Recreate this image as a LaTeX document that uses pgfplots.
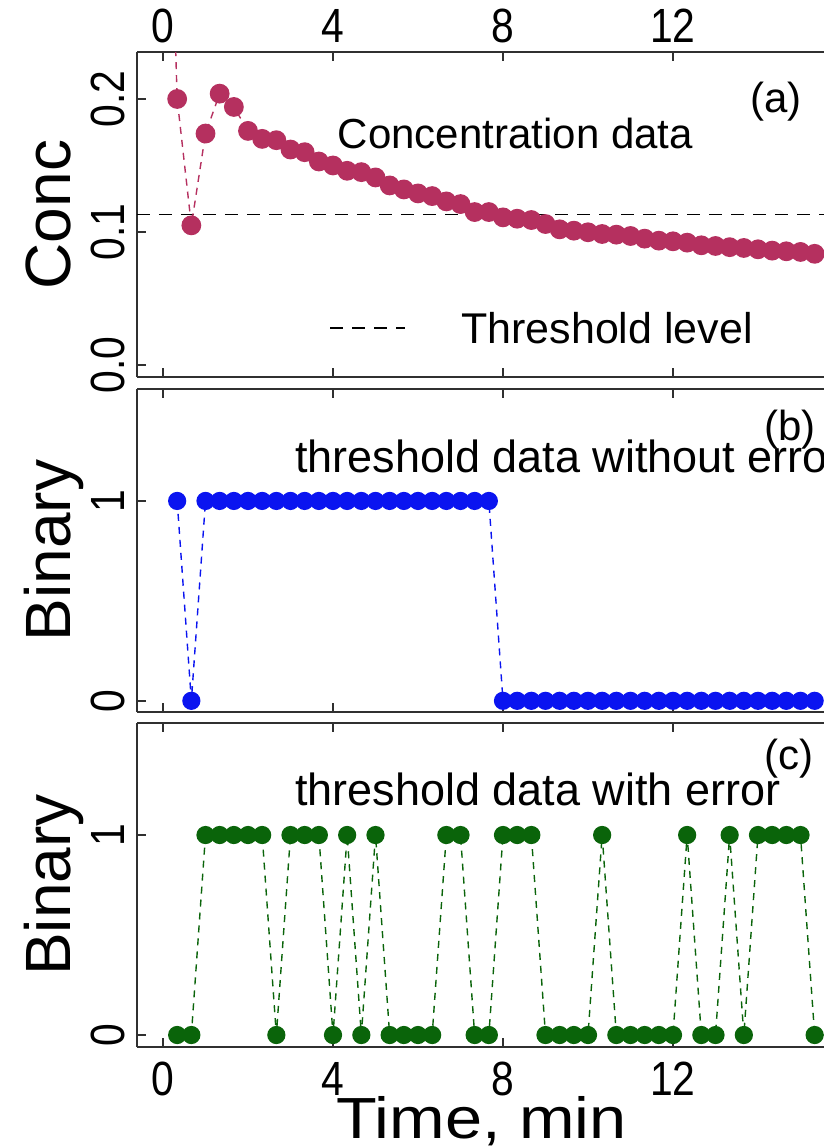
\documentclass[border=0pt]{standalone}
\usepackage{fontspec}
\setmainfont{Liberation Sans}
\newfontfamily\tickfont[FakeStretch=0.85]{Liberation Sans}
\newfontfamily\widefont[FakeStretch=1.15]{Liberation Sans}
\usepackage{pgfplots}
\usepackage{pgfplotstable}
\pgfplotsset{compat=1.18}
\definecolor{concred}{HTML}{B5305F}
\definecolor{binblue}{HTML}{0A14F0}
\definecolor{bingreen}{HTML}{0A640A}
\definecolor{axisgray}{HTML}{303030}

% concentration, one reading every 20 s
\pgfplotstableread{
t      c
0.000  0.550
0.333  0.200
0.667  0.105
1.000  0.174
1.333  0.204
1.667  0.194
2.000  0.176
2.333  0.170
2.667  0.169
3.000  0.162
3.333  0.160
3.667  0.153
4.000  0.150
4.333  0.146
4.667  0.145
5.000  0.141
5.333  0.135
5.667  0.132
6.000  0.129
6.333  0.127
6.667  0.123
7.000  0.121
7.333  0.115
7.667  0.115
8.000  0.111
8.333  0.110
8.667  0.109
9.000  0.106
9.333  0.102
9.667  0.101
10.000 0.0998
10.333 0.0985
10.667 0.098
11.000 0.097
11.333 0.095
11.667 0.0935
12.000 0.093
12.333 0.092
12.667 0.090
13.000 0.0895
13.333 0.0886
13.667 0.088
14.000 0.087
14.333 0.086
14.667 0.0855
15.000 0.085
15.333 0.0836
15.667 0.083
}\conctable

% b: threshold without error, e: with error
\pgfplotstableread{
t      b  e
0.333  1  0
0.667  0  0
1.000  1  1
1.333  1  1
1.667  1  1
2.000  1  1
2.333  1  1
2.667  1  0
3.000  1  1
3.333  1  1
3.667  1  1
4.000  1  0
4.333  1  1
4.667  1  0
5.000  1  1
5.333  1  0
5.667  1  0
6.000  1  0
6.333  1  0
6.667  1  1
7.000  1  1
7.333  1  0
7.667  1  0
8.000  0  1
8.333  0  1
8.667  0  1
9.000  0  0
9.333  0  0
9.667  0  0
10.000 0  0
10.333 0  1
10.667 0  0
11.000 0  0
11.333 0  0
11.667 0  0
12.000 0  0
12.333 0  1
12.667 0  0
13.000 0  0
13.333 0  1
13.667 0  0
14.000 0  1
14.333 0  1
14.667 0  1
15.000 0  1
15.333 0  0
15.667 0  0
}\bintable

\pgfplotsset{
  panel/.style={
    scale only axis, width=343.5pt,
    xmin=-0.612, xmax=15.553,
    axis x line*=box, axis y line*=left,
    axis line style={axisgray, line width=1pt},
    tick style={axisgray, line width=1pt},
    major tick length=4.5pt,
    xtick={0,4,8,12}, xticklabels={0,4,8,12},
    tick label style={font=\tickfont\fontsize{24}{24}\selectfont, text=black},
    xticklabel style={anchor=base, inner sep=0pt},
    yticklabel style={rotate=90, anchor=south, inner sep=0pt},
    yticklabel shift=6pt,
    every axis y label/.style={at={(axis description cs:-0.0975,0.5)}, rotate=90, anchor=base,
      font=\fontsize{32}{32}\selectfont},
    every axis x label/.style={at={(axis description cs:0.5015,0)}, anchor=base, yshift=-45.5pt,
      font=\widefont\fontsize{29}{29}\selectfont},
  },
  series/.style={line width=0.7pt, dash pattern=on 3.5pt off 3pt,
    mark=*, mark size=4.2pt, mark options={solid}},
}

\begin{document}
\begin{tikzpicture}
  % (a) concentration
  \begin{axis}[panel, at={(68.5pt,-26pt)}, anchor=north west, height=162.5pt,
      ymin=-0.009, ymax=0.2353,
      ytick={0,0.1,0.2}, yticklabels={0.0,0.1,0.2},
      xticklabel pos=top, xticklabel shift=5pt,
      ylabel={Conc}]
    \addplot[black, line width=0.75pt, dash pattern=on 6.5pt off 4.5pt] coordinates {(-0.612,0.113) (15.553,0.113)};
    \addplot[series, concred, mark size=4.6pt] table[x=t, y=c] {\conctable};
    \addplot[black, line width=0.75pt, dash pattern=on 6.5pt off 4.5pt] coordinates {(3.93,0.028) (5.69,0.028)};
    \node[anchor=base west, font=\fontsize{21}{21}\selectfont] at (axis cs:3.95,0.163) {Concentration data};
    \node[anchor=base west, font=\fontsize{21.5}{21.5}\selectfont] at (axis cs:6.85,0.0165) {Threshold level};
    \node[anchor=base west, font=\fontsize{21}{21}\selectfont] at (axis cs:13.65,0.19) {(a)};
  \end{axis}

  % (b) threshold data without error
  \begin{axis}[panel, at={(68.5pt,-194.5pt)}, anchor=north west, height=161.5pt,
      ymin=-0.056, ymax=1.56,
      ytick={0,1}, yticklabels={0,1},
      xticklabels={},
      ylabel={Binary}]
    \addplot[series, binblue] table[x=t, y=b] {\bintable};
    \node[anchor=base west, font=\fontsize{22.5}{22.5}\selectfont] at (axis cs:2.94,1.143) {threshold data without error};
    \node[anchor=base west, font=\fontsize{21}{21}\selectfont] at (axis cs:13.98,1.30) {(b)};
  \end{axis}

  % (c) threshold data with error
  \begin{axis}[panel, at={(68.5pt,-361.5pt)}, anchor=north west, height=162pt,
      ymin=-0.06, ymax=1.56,
      ytick={0,1}, yticklabels={0,1},
      xticklabel pos=bottom, xticklabel shift=24pt,
      ylabel={Binary}, xlabel={Time, min}]
    \addplot[series, bingreen] table[x=t, y=e] {\bintable};
    \node[anchor=base west, font=\fontsize{22.5}{22.5}\selectfont] at (axis cs:2.94,1.15) {threshold data with error};
    \node[anchor=base west, font=\fontsize{21}{21}\selectfont] at (axis cs:13.99,1.33) {(c)};
  \end{axis}

  \pgfresetboundingbox
  \path[use as bounding box] (0,0) rectangle (412pt,-573.5pt);
\end{tikzpicture}
\end{document}
